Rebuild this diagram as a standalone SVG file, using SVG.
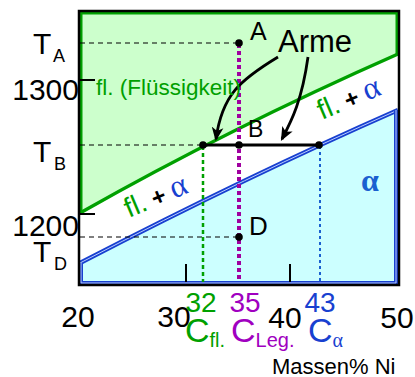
<svg xmlns="http://www.w3.org/2000/svg" width="415" height="377" viewBox="0 0 415 377">
<defs>
<style>
.s{font-family:"Liberation Sans",Arial,sans-serif}
.r{font-family:"Liberation Serif","Times New Roman",serif}
.k{fill:#000}
.g{fill:#00a000}
.b{fill:#1840d0}
.p{fill:#a000c0}
.dash{stroke:#000;stroke-width:1.2;stroke-dasharray:5,4;fill:none}
</style>
<marker id="ah" viewBox="0 0 12 10" refX="10" refY="5" markerWidth="5" markerHeight="4.5" orient="auto" markerUnits="strokeWidth">
<path d="M0,0 L12,5 L0,10 L3,5 Z" fill="#000"/>
</marker>
</defs>
<rect width="415" height="377" fill="#fff"/>
<g id="regions">
<path d="M80,12 H398 V54 Q230,128 80,213 Z" fill="#ccffcc"/>
<path d="M80,263 Q250,175 398,110 V284 H80 Z" fill="#ccffff"/>
<path d="M81,213 V13 H397 V54" fill="none" stroke="#00a000" stroke-width="3"/>
<path d="M80,213 Q230,128 398,54" fill="none" stroke="#00a000" stroke-width="3.5"/>
<path d="M80,263 Q250,175 398,110" fill="none" stroke="#1840d0" stroke-width="4.5"/>
<path d="M80,263 Q250,175 398,110" fill="none" stroke="#b8ccff" stroke-width="1"/>
<path d="M81,263 V283 H396 V110" fill="none" stroke="#1840d0" stroke-width="4"/>
<path d="M81,263 V283 H396 V110" fill="none" stroke="#b8ccff" stroke-width="1"/>
<rect x="79" y="11" width="320" height="274" fill="none" stroke="#000" stroke-width="2.5"/>
</g>
<g id="connectors">
<line x1="80" y1="43" x2="239" y2="43" class="dash"/>
<line x1="80" y1="145" x2="203" y2="145" class="dash"/>
<line x1="80" y1="237" x2="239" y2="237" class="dash"/>
<line x1="203" y1="146" x2="203" y2="282" stroke="#00a000" stroke-width="2.5" stroke-dasharray="4,3"/>
<line x1="320" y1="146" x2="320" y2="282" stroke="#1a60d0" stroke-width="2" stroke-dasharray="3,3"/>
<line x1="239" y1="44" x2="239" y2="282" stroke="#a000a0" stroke-width="4" stroke-dasharray="4,3"/>
<line x1="203" y1="145" x2="319" y2="145" stroke="#000" stroke-width="3"/>
<line x1="80" y1="80" x2="95" y2="80" stroke="#000" stroke-width="2"/>
<line x1="80" y1="214" x2="95" y2="214" stroke="#000" stroke-width="2"/>
<line x1="186" y1="264" x2="186" y2="282" stroke="#000" stroke-width="2"/>
<line x1="290" y1="264" x2="290" y2="282" stroke="#000" stroke-width="2"/>
<path d="M278,57 C240,80 222,95 216,139" fill="none" stroke="#000" stroke-width="2.8" marker-end="url(#ah)"/>
<path d="M308,57 C302,100 292,120 282,139" fill="none" stroke="#000" stroke-width="2.8" marker-end="url(#ah)"/>
</g>
<g id="points">
<circle cx="239" cy="43" r="3.8" fill="#000"/>
<circle cx="239" cy="145" r="3.8" fill="#000"/>
<circle cx="239" cy="237" r="3.8" fill="#000"/>
<circle cx="203" cy="145" r="3.8" fill="#000"/>
<circle cx="319" cy="145" r="3.8" fill="#000"/>
</g>
<g id="labels">
<text class="s k" x="250" y="40" font-size="25">A</text>
<text class="s k" x="248" y="137" font-size="23">B</text>
<text class="s k" x="249" y="235" font-size="26">D</text>
<text class="s k" x="278" y="52" font-size="31">Arme</text>
<text class="s g" x="96" y="95" font-size="22.5">fl. (Flüssigkeit)</text>
<text transform="translate(322,120) rotate(-23)" font-size="28"><tspan class="s g">fl.</tspan><tspan class="s k" font-size="24" font-weight="bold"> + </tspan><tspan class="r b" font-size="32">α</tspan></text>
<text transform="translate(129,218) rotate(-23)" font-size="28"><tspan class="s g">fl.</tspan><tspan class="s k" font-size="24" font-weight="bold"> + </tspan><tspan class="r b" font-size="32">α</tspan></text>
<text class="r" x="361" y="191" font-size="32" font-weight="bold" fill="#1a60d0">α</text>
</g>
<g id="axes">
<text class="s k" x="33" y="54" font-size="30">T</text>
<text class="s k" x="53" y="62" font-size="18">A</text>
<text class="s k" x="79" y="100" font-size="30" text-anchor="end">1300</text>
<text class="s k" x="33" y="162" font-size="30">T</text>
<text class="s k" x="54" y="170" font-size="18">B</text>
<text class="s k" x="79" y="236" font-size="30" text-anchor="end">1200</text>
<text class="s k" x="33" y="262" font-size="30">T</text>
<text class="s k" x="54" y="270" font-size="18">D</text>
<text class="s k" x="78" y="327" font-size="30" text-anchor="middle">20</text>
<text class="s k" x="174" y="327" font-size="30" text-anchor="middle">30</text>
<text class="s k" x="285" y="328" font-size="30" text-anchor="middle">40</text>
<text class="s k" x="397" y="328" font-size="30" text-anchor="middle">50</text>
<text class="s g" x="201" y="312" font-size="28" text-anchor="middle">32</text>
<text class="s p" x="245" y="312" font-size="28" text-anchor="middle">35</text>
<text class="s b" x="320" y="312" font-size="28" text-anchor="middle">43</text>
<text class="s g" x="185" y="342" font-size="34">C<tspan font-size="20" dy="5">fl.</tspan></text>
<text class="s p" x="231" y="342" font-size="34">C<tspan font-size="20" dy="5">Leg.</tspan></text>
<text class="s b" x="308" y="342" font-size="34">C<tspan class="r" font-size="20" dy="5">α</tspan></text>
<text class="s k" x="272" y="374" font-size="22">Massen% Ni</text>
</g>
</svg>
